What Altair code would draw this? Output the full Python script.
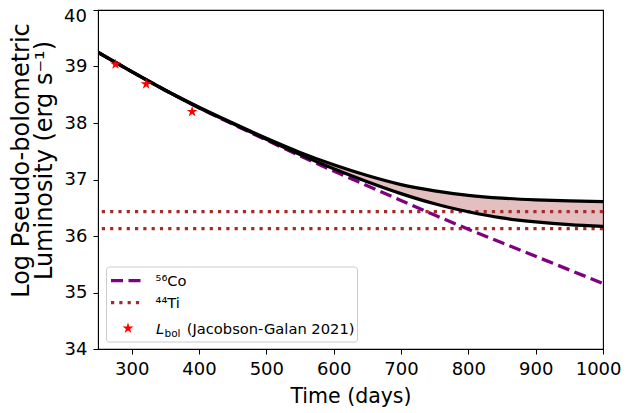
import altair as alt
import pandas as pd

# ---- data ----
days = [250, 300, 350, 400, 450, 500, 550, 600, 650, 700, 750, 800, 850, 900, 950, 1000]
co56 = [39.25, 38.91, 38.58, 38.27, 37.98, 37.70, 37.42, 37.15, 36.89, 36.63, 36.37, 36.12, 35.88, 35.64, 35.40, 35.16]
total_high = [39.25, 38.91, 38.58, 38.28, 38.00, 37.73, 37.48, 37.26, 37.07, 36.91, 36.80, 36.72, 36.67, 36.64, 36.62, 36.61]
total_low = [39.25, 38.91, 38.58, 38.27, 37.99, 37.71, 37.44, 37.19, 36.96, 36.75, 36.57, 36.43, 36.32, 36.25, 36.20, 36.17]
ti44_levels = [36.43, 36.13]
obs_days = [276, 321.5, 389.8]
obs_lum = [39.04, 38.69, 38.20]

x_ticks = [300, 400, 500, 600, 700, 800, 900, 1000]
y_ticks = [34, 35, 36, 37, 38, 39, 40]

legend_labels = ["\u2075\u2076Co", "\u2074\u2074Ti"]

FONT = "DejaVu Sans"
W, H = 505, 339
STAR = ("M0,-1L0.225,-0.309L0.951,-0.309L0.363,0.118L0.588,0.809L0,0.382"
        "L-0.588,0.809L-0.363,0.118L-0.951,-0.309L-0.225,-0.309Z")

curves = pd.DataFrame({"t": days, "co": co56, "hi": total_high, "lo": total_low})
ti_df = pd.DataFrame({"lvl": ti44_levels})
obs_df = pd.DataFrame({"t": obs_days, "L": obs_lum})
top_tick = pd.DataFrame({"v": [y_ticks[-1]], "s": [str(y_ticks[-1])]})
one = pd.DataFrame({"k": [0]})

xs = alt.Scale(domain=[250, 1000], nice=False, zero=False)
ys = alt.Scale(domain=[34, 40], nice=False, zero=False)

xax = alt.Axis(values=x_ticks, format="d", orient="bottom", title="Time (days)", grid=False,
               tickSize=5, labelPadding=6, titlePadding=8, labelFontSize=18, titleFontSize=20.5,
               labelFont=FONT, titleFont=FONT, titleFontWeight="normal", labelColor="black",
               titleColor="black", domainColor="black", tickColor="black",
               labelFlush=1, labelFlushOffset=18)
yax = alt.Axis(values=y_ticks, format="d", orient="left",
               labelExpr="datum.value == 40 ? '' : datum.label",
               title=["Log Pseudo-bolometric", "Luminosity (erg s\u207b\u00b9)"],
               grid=False, tickSize=5, labelPadding=6, labelFontSize=18, titleFontSize=24,
               labelFont=FONT, titleFont=FONT, titleFontWeight="normal", labelColor="black",
               titleColor="black", domainColor="black", tickColor="black",
               titleX=-70, titleY=150, titleBaseline="alphabetic", titleLineHeight=23,
               titleAngle=270, titleAlign="center", labelFlush=False)

base = alt.Chart(curves)

band = base.mark_area(color="brown", opacity=0.3, interpolate="monotone", clip=True).encode(
    x=alt.X("t:Q", scale=xs, axis=xax), y=alt.Y("hi:Q", scale=ys, axis=yax), y2="lo:Q")

# top tick label drawn a little lower so it stays inside the page
top_label = alt.Chart(top_tick).mark_text(align="right", baseline="middle", font=FONT, fontSize=18,
                                          color="black", dy=7).encode(
    x=alt.value(-11), y=alt.Y("v:Q", scale=ys), text="s:N")

ti_lines = alt.Chart(ti_df).mark_rule(color="#a52a2a", strokeWidth=3.2, strokeDash=[3.2, 5.1]).encode(
    y=alt.Y("lvl:Q", scale=ys))

co_line = base.mark_line(color="purple", strokeWidth=3.3, strokeDash=[12, 5.5], interpolate="monotone",
                         clip=True).encode(x=alt.X("t:Q", scale=xs), y=alt.Y("co:Q", scale=ys))

hi_line = base.mark_line(color="black", strokeWidth=3.2, interpolate="monotone", clip=True).encode(
    x=alt.X("t:Q", scale=xs), y=alt.Y("hi:Q", scale=ys))
lo_line = base.mark_line(color="black", strokeWidth=3.2, interpolate="monotone", clip=True).encode(
    x=alt.X("t:Q", scale=xs), y=alt.Y("lo:Q", scale=ys))

stars = alt.Chart(obs_df).mark_point(shape=STAR, filled=True, color="red", size=130, opacity=1).encode(
    x=alt.X("t:Q", scale=xs), y=alt.Y("L:Q", scale=ys))

# ---- legend (drawn inside the plot, lower left) ----
leg_box = alt.Chart(one).mark_rect(fill="white", fillOpacity=0.8, stroke="#cccccc", strokeWidth=1,
                                   cornerRadius=3).encode(
    x=alt.value(8.5), x2=alt.value(259.5), y=alt.value(257), y2=alt.value(332))
leg_co = alt.Chart(one).mark_rule(color="purple", strokeWidth=3.3, strokeDash=[12, 5.5]).encode(
    x=alt.value(13), x2=alt.value(42.5), y=alt.value(270.7))
leg_ti = alt.Chart(one).mark_rule(color="#a52a2a", strokeWidth=3.2, strokeDash=[3.2, 5.1]).encode(
    x=alt.value(13), x2=alt.value(42.5), y=alt.value(292.7))
leg_star = alt.Chart(one).mark_point(shape=STAR, filled=True, color="red", size=130, opacity=1).encode(
    x=alt.value(30), y=alt.value(318.3))

def txt(s, x, y, size=14.7, style="normal"):
    return alt.Chart(one).mark_text(text=s, align="left", baseline="alphabetic", font=FONT,
                                    fontSize=size, fontStyle=style, color="black").encode(
        x=alt.value(x), y=alt.value(y))

leg_t1 = txt(legend_labels[0], 57.5, 276)
leg_t2 = txt(legend_labels[1], 57.5, 298.3)
leg_t3a = txt("L", 58, 324, style="italic")
leg_t3b = txt("bol", 66.5, 327.3, size=10.5)
leg_t3c = txt("(Jacobson-Galan 2021)", 88.7, 324)

chart = alt.layer(
    band, top_label, ti_lines, co_line, hi_line, lo_line, stars,
    leg_box, leg_co, leg_ti, leg_star, leg_t1, leg_t2, leg_t3a, leg_t3b, leg_t3c
).properties(
    width=W, height=H, autosize="none", background="white",
    padding={"left": 90, "top": 2, "right": 18, "bottom": 60}
).configure_view(stroke="black", strokeWidth=1.1)

chart.save("out.html", embed_options={"renderer": "svg", "actions": False})
